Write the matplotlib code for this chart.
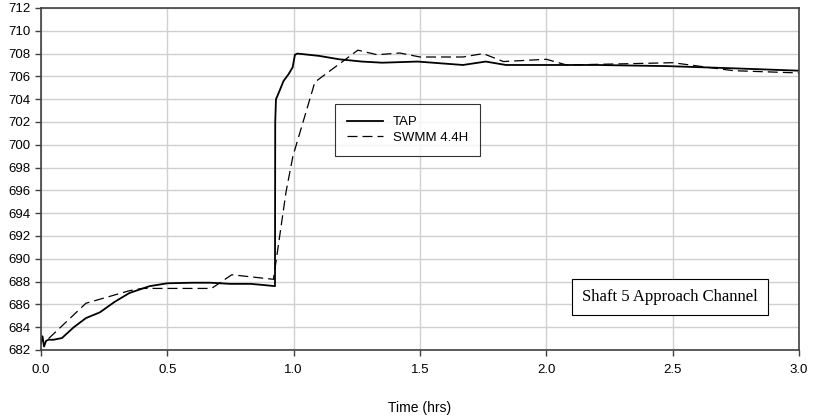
import numpy as np
import matplotlib
matplotlib.use("Agg")
import matplotlib.pyplot as plt

# values
tap_t = [0.0, 0.006, 0.012, 0.02, 0.03, 0.05, 0.083, 0.13, 0.178, 0.233, 0.29, 0.35,
         0.43, 0.5, 0.6, 0.67, 0.75, 0.83, 0.88, 0.926, 0.927, 0.93, 0.936, 0.96,
         0.98, 0.996, 1.005, 1.015, 1.1, 1.18, 1.27, 1.35, 1.49, 1.67, 1.76, 1.84,
         2.0, 2.2, 2.48, 2.75, 3.0]
tap_v = [682.6, 683.2, 682.3, 682.8, 682.9, 682.9, 683.05, 684.0, 684.8, 685.3, 686.2, 687.0,
         687.6, 687.85, 687.9, 687.9, 687.8, 687.8, 687.7, 687.6, 702.0, 704.0, 704.3, 705.6,
         706.2, 706.8, 707.9, 708.0, 707.8, 707.5, 707.3, 707.2, 707.3, 707.0, 707.3, 707.0,
         707.0, 707.0, 706.9, 706.7, 706.5]

swmm_t = [0.03, 0.178, 0.35, 0.4, 0.675, 0.755, 0.92, 0.97, 0.997, 1.084, 1.254, 1.33,
          1.42, 1.5, 1.67, 1.75, 1.83, 2.0, 2.08, 2.3, 2.5, 2.74, 3.0]
swmm_v = [683.0, 686.1, 687.2, 687.4, 687.4, 688.6, 688.2, 695.9, 699.0, 705.5, 708.3, 707.9,
          708.05, 707.7, 707.7, 708.0, 707.3, 707.5, 707.0, 707.1, 707.2, 706.5, 706.3]

y_ticks = np.arange(682, 713, 2)
x_ticks = np.arange(0.0, 3.01, 0.5)

plt.rcParams['font.family'] = ['Liberation Sans', 'DejaVu Sans']

fig = plt.figure(figsize=(8.15, 4.2), dpi=100)
ax = fig.add_axes([0.0503, 0.1667, 0.9301, 0.8143])

ax.plot(tap_t, tap_v, color='black', lw=1.3, label='TAP')
ax.plot(swmm_t, swmm_v, color='black', lw=0.9, dashes=(8, 4), label='SWMM 4.4H')

ax.set_xlim(0, 3.0)
ax.set_ylim(682, 712)
ax.set_xticks(x_ticks)
ax.set_xticklabels([f"{v:.1f}" for v in x_ticks])
ax.set_yticks(y_ticks)
ax.grid(True, color='#d0d0d0', lw=1.0)
ax.set_axisbelow(True)
ax.tick_params(direction='out', length=4, width=1, color='#404040', labelsize=9.5)
ax.tick_params(axis='x', pad=6)
for s in ax.spines.values():
    s.set_color('#404040')
    s.set_linewidth(1.2)

ax.set_xlabel('Time (hrs)', fontsize=10, labelpad=18)

leg = ax.legend(loc='upper left', bbox_to_anchor=(0.388, 0.719), fontsize=9.5,
                frameon=True, fancybox=False, edgecolor='black', handlelength=2.7,
                borderpad=0.9, labelspacing=0.25, handletextpad=0.8,
                borderaxespad=0)
leg.get_frame().set_linewidth(0.8)

ax.text(0.830, 0.155, 'Shaft 5 Approach Channel', transform=ax.transAxes,
        ha='center', va='center', fontsize=12, family='Liberation Serif',
        bbox=dict(boxstyle='square,pad=0.6', fc='white', ec='black', lw=0.8))

fig.savefig('out.png', dpi=100)
